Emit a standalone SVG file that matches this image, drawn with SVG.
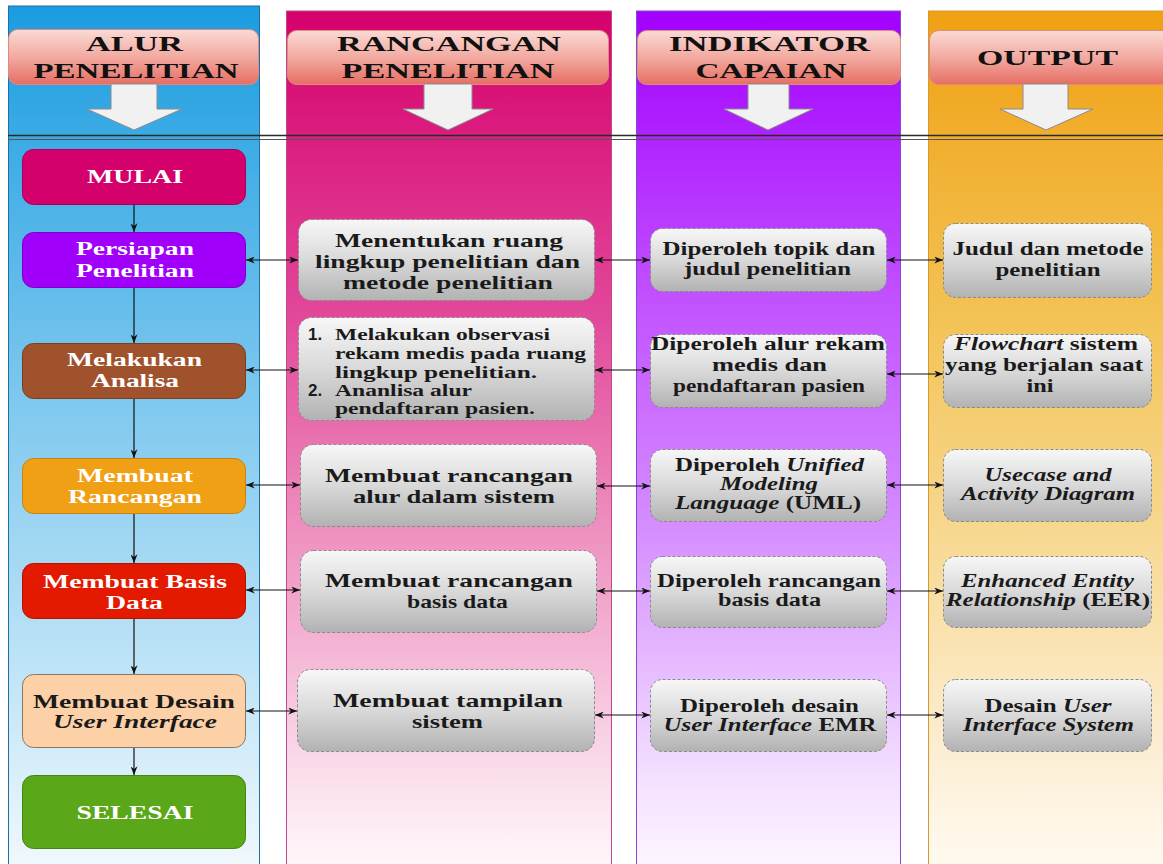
<svg xmlns="http://www.w3.org/2000/svg" width="1163" height="864" viewBox="0 0 1163 864">
<defs>
<linearGradient id="gBlue" x1="0" y1="0" x2="0" y2="1"><stop offset="0" stop-color="#1a9ce0"/><stop offset="0.45" stop-color="#7dc8ee"/><stop offset="1" stop-color="#f2f9fd"/></linearGradient>
<linearGradient id="gPink" x1="0" y1="0" x2="0" y2="1"><stop offset="0" stop-color="#d6006c"/><stop offset="0.35" stop-color="#e2479a"/><stop offset="0.6" stop-color="#ee90bf"/><stop offset="0.9" stop-color="#fbe2ee"/><stop offset="1" stop-color="#fff9fb"/></linearGradient>
<linearGradient id="gPurple" x1="0" y1="0" x2="0" y2="1"><stop offset="0" stop-color="#a200ff"/><stop offset="0.35" stop-color="#c355ff"/><stop offset="0.6" stop-color="#d58eff"/><stop offset="0.88" stop-color="#f3deff"/><stop offset="1" stop-color="#fdf8ff"/></linearGradient>
<linearGradient id="gOrange" x1="0" y1="0" x2="0" y2="1"><stop offset="0" stop-color="#f0a012"/><stop offset="0.35" stop-color="#f3c254"/><stop offset="0.6" stop-color="#f7d890"/><stop offset="0.88" stop-color="#fdf0da"/><stop offset="1" stop-color="#fffbf2"/></linearGradient>
<linearGradient id="gHead" x1="0" y1="0" x2="0" y2="1"><stop offset="0" stop-color="#fadad4"/><stop offset="0.5" stop-color="#f2aaa1"/><stop offset="1" stop-color="#e66e63"/></linearGradient>
<linearGradient id="gGray" x1="0" y1="0" x2="0" y2="1"><stop offset="0" stop-color="#f7f7f7"/><stop offset="0.5" stop-color="#d9d9d9"/><stop offset="1" stop-color="#b2b2b2"/></linearGradient>
<marker id="ah" viewBox="0 0 10 8" refX="10" refY="4" markerWidth="9" markerHeight="7" markerUnits="userSpaceOnUse" orient="auto-start-reverse"><path d="M0,0 L10,4 L0,8 L3,4 z" fill="#111"/></marker>
</defs>
<style>
.hd{font-family:"Liberation Serif","Times New Roman",serif;font-weight:bold;font-size:22px;fill:#111;text-anchor:middle}
.w{font-family:"Liberation Serif","Times New Roman",serif;font-weight:bold;font-size:18px;fill:#fff;text-anchor:middle}
.d{font-family:"Liberation Serif","Times New Roman",serif;font-weight:bold;font-size:18.5px;fill:#1a1a1a;text-anchor:middle}
.d2{font-family:"Liberation Serif","Times New Roman",serif;font-weight:bold;font-size:19px;fill:#1a1a1a;text-anchor:middle}
.l{font-family:"Liberation Serif","Times New Roman",serif;font-weight:bold;font-size:17.5px;fill:#1a1a1a}
.n{font-family:"Liberation Sans",Arial,sans-serif;font-weight:bold;font-size:17px;fill:#1a1a1a}
.i{font-style:italic}
.gn{fill:url(#gGray);stroke:#8a8a8a;stroke-width:1;stroke-dasharray:3 2}
.hb{fill:url(#gHead);stroke:#df8a7e;stroke-width:1}
.da{fill:#f1f1f1;stroke:#8c8c8c;stroke-width:1}
.c line{stroke:#111;stroke-width:1.2;marker-end:url(#ah)}
.c .b{marker-start:url(#ah)}
</style>
<!-- lanes -->
<g id="lanes">
<rect x="8.5" y="6" width="251" height="870" fill="url(#gBlue)" stroke="#1f6ea6" stroke-width="1"/>
<rect x="286.5" y="11" width="325" height="865" fill="url(#gPink)" stroke="#c04a86" stroke-width="1"/>
<rect x="636.5" y="11" width="264" height="865" fill="url(#gPurple)" stroke="#8a48cc" stroke-width="1"/>
<rect x="928.5" y="11" width="245" height="865" fill="url(#gOrange)" stroke="#d49a2c" stroke-width="1"/>
</g>
<!-- headers -->
<g id="h1"><rect class="hb" x="8.5" y="29.5" width="250" height="55" rx="9"/><text class="hd" x="134.5" y="51" textLength="97" lengthAdjust="spacingAndGlyphs">ALUR</text><text class="hd" x="136" y="78" textLength="205" lengthAdjust="spacingAndGlyphs">PENELITIAN</text></g>
<g id="h2"><rect class="hb" x="287.5" y="30.5" width="321" height="54" rx="9"/><text class="hd" x="449" y="51" textLength="224" lengthAdjust="spacingAndGlyphs">RANCANGAN</text><text class="hd" x="448" y="78" textLength="213" lengthAdjust="spacingAndGlyphs">PENELITIAN</text></g>
<g id="h3"><rect class="hb" x="637.5" y="30.5" width="263" height="54" rx="9"/><text class="hd" x="769.5" y="51" textLength="201" lengthAdjust="spacingAndGlyphs">INDIKATOR</text><text class="hd" x="771" y="78" textLength="151" lengthAdjust="spacingAndGlyphs">CAPAIAN</text></g>
<g id="h4"><rect class="hb" x="929.5" y="30.5" width="245" height="54" rx="9"/><text class="hd" x="1047.5" y="65" textLength="141" lengthAdjust="spacingAndGlyphs">OUTPUT</text></g>
<!-- down block arrows -->
<g id="downArrows">
<path class="da" d="M111,84 H157 V109 H182 L134,130 L87,109 H111 Z"/>
<path class="da" d="M424,84 H472 V109 H493 L448,130 L403,109 H424 Z"/>
<path class="da" d="M748,84 H789 V109 H813 L768,130 L724,109 H748 Z"/>
<path class="da" d="M1023,84 H1068 V109 H1093 L1046,130 L1000,109 H1023 Z"/>
</g>
<g id="divider">
<line x1="8" y1="135.5" x2="1163" y2="135.5" stroke="#2a2a2a" stroke-width="1.3"/>
<line x1="8" y1="139.5" x2="1163" y2="139.5" stroke="#555" stroke-width="1"/>
</g>
<!-- column 1 nodes -->
<g id="mulai"><rect x="22.5" y="149.5" width="223" height="55" rx="11" fill="#d4006c" stroke="#a8005a"/><text class="w" x="135" y="183" textLength="96" lengthAdjust="spacingAndGlyphs">MULAI</text></g>
<g id="persiapan"><rect x="22.5" y="232.5" width="223" height="55" rx="11" fill="#a000fa" stroke="#7d00c6"/><text class="w" x="135" y="255" textLength="118" lengthAdjust="spacingAndGlyphs">Persiapan</text><text class="w" x="135" y="277" textLength="118" lengthAdjust="spacingAndGlyphs">Penelitian</text></g>
<g id="analisa"><rect x="22.5" y="343.5" width="223" height="55" rx="11" fill="#a0522d" stroke="#7c3d20"/><text class="w" x="134.5" y="366" textLength="135" lengthAdjust="spacingAndGlyphs">Melakukan</text><text class="w" x="135" y="387" textLength="88" lengthAdjust="spacingAndGlyphs">Analisa</text></g>
<g id="rancangan"><rect x="22.5" y="458.5" width="223" height="55" rx="11" fill="#f0a014" stroke="#c98210"/><text class="w" x="135" y="482" textLength="116" lengthAdjust="spacingAndGlyphs">Membuat</text><text class="w" x="135" y="503" textLength="134" lengthAdjust="spacingAndGlyphs">Rancangan</text></g>
<g id="basisdata"><rect x="22.5" y="563.5" width="223" height="55" rx="11" fill="#e31a00" stroke="#b01400"/><text class="w" x="135" y="588" textLength="184" lengthAdjust="spacingAndGlyphs">Membuat Basis</text><text class="w" x="134.5" y="609" textLength="57" lengthAdjust="spacingAndGlyphs">Data</text></g>
<g id="desain"><rect x="22.5" y="674.5" width="223" height="73" rx="11" fill="#fdd1a8" stroke="#8f7460"/><text class="w" style="fill:#1a1a1a" x="134" y="708" textLength="202" lengthAdjust="spacingAndGlyphs">Membuat Desain</text><text class="w i" style="fill:#1a1a1a" x="135" y="728" textLength="164" lengthAdjust="spacingAndGlyphs">User Interface</text></g>
<g id="selesai"><rect x="22.5" y="775.5" width="223" height="73" rx="11" fill="#5ba71a" stroke="#468513"/><text class="w" x="135" y="819" textLength="117" lengthAdjust="spacingAndGlyphs">SELESAI</text></g>
<!-- column 2 nodes -->
<g id="r1"><rect class="gn" x="298.5" y="219.5" width="296" height="81" rx="13"/><text class="d2" x="449" y="247" textLength="228" lengthAdjust="spacingAndGlyphs">Menentukan ruang</text><text class="d2" x="447.5" y="268" textLength="265" lengthAdjust="spacingAndGlyphs">lingkup penelitian dan</text><text class="d2" x="448" y="289" textLength="210" lengthAdjust="spacingAndGlyphs">metode penelitian</text></g>
<g id="r2"><rect class="gn" x="298.5" y="317.5" width="296" height="103" rx="13"/>
<text class="n" x="308" y="340">1.</text><text class="l" x="335" y="340" textLength="215" lengthAdjust="spacingAndGlyphs">Melakukan observasi</text>
<text class="l" x="335" y="359" textLength="251" lengthAdjust="spacingAndGlyphs">rekam medis pada ruang</text>
<text class="l" x="335" y="378" textLength="202" lengthAdjust="spacingAndGlyphs">lingkup penelitian.</text>
<text class="n" x="308" y="396">2.</text><text class="l" x="335" y="396" textLength="137" lengthAdjust="spacingAndGlyphs">Ananlisa alur</text>
<text class="l" x="335" y="414" textLength="200" lengthAdjust="spacingAndGlyphs">pendaftaran pasien.</text></g>
<g id="r3"><rect class="gn" x="300.5" y="444.5" width="296" height="82" rx="13"/><text class="d2" x="449" y="482" textLength="248" lengthAdjust="spacingAndGlyphs">Membuat rancangan</text><text class="d2" x="454" y="503" textLength="202" lengthAdjust="spacingAndGlyphs">alur dalam sistem</text></g>
<g id="r4"><rect class="gn" x="300.5" y="550.5" width="296" height="82" rx="13"/><text class="d2" x="449" y="587" textLength="248" lengthAdjust="spacingAndGlyphs">Membuat rancangan</text><text class="d2" x="457.5" y="608" textLength="101" lengthAdjust="spacingAndGlyphs">basis data</text></g>
<g id="r5"><rect class="gn" x="297.5" y="669.5" width="297" height="82" rx="13"/><text class="d2" x="448" y="707" textLength="230" lengthAdjust="spacingAndGlyphs">Membuat tampilan</text><text class="d2" x="447.5" y="728" textLength="71" lengthAdjust="spacingAndGlyphs">sistem</text></g>
<!-- column 3 nodes -->
<g id="i1"><rect class="gn" x="650.5" y="228.5" width="236" height="63" rx="12"/><text class="d" x="769" y="255" textLength="213" lengthAdjust="spacingAndGlyphs">Diperoleh topik dan</text><text class="d" x="767.5" y="275" textLength="167" lengthAdjust="spacingAndGlyphs">judul penelitian</text></g>
<g id="i2"><rect class="gn" x="650.5" y="334.5" width="236" height="73" rx="12"/><text class="d" x="768" y="350" textLength="234" lengthAdjust="spacingAndGlyphs">Diperoleh alur rekam</text><text class="d" x="769.5" y="371" textLength="115" lengthAdjust="spacingAndGlyphs">medis dan</text><text class="d" x="769" y="392" textLength="192" lengthAdjust="spacingAndGlyphs">pendaftaran pasien</text></g>
<g id="i3"><rect class="gn" x="650.5" y="449.5" width="236" height="72" rx="12"/><text class="d" x="769.5" y="471" textLength="189" lengthAdjust="spacingAndGlyphs">Diperoleh <tspan class="i">Unified</tspan></text><text class="d i" x="769" y="490" textLength="98" lengthAdjust="spacingAndGlyphs">Modeling</text><text class="d" x="768" y="509" textLength="186" lengthAdjust="spacingAndGlyphs"><tspan class="i">Language</tspan> (UML)</text></g>
<g id="i4"><rect class="gn" x="650.5" y="556.5" width="236" height="71" rx="12"/><text class="d" x="769" y="587" textLength="224" lengthAdjust="spacingAndGlyphs">Diperoleh rancangan</text><text class="d" x="769.5" y="606" textLength="103" lengthAdjust="spacingAndGlyphs">basis data</text></g>
<g id="i5"><rect class="gn" x="650.5" y="679.5" width="236" height="72" rx="12"/><text class="d" x="769.5" y="712" textLength="179" lengthAdjust="spacingAndGlyphs">Diperoleh desain</text><text class="d" x="770" y="731" textLength="213" lengthAdjust="spacingAndGlyphs"><tspan class="i">User Interface</tspan> EMR</text></g>
<!-- column 4 nodes -->
<g id="o1"><rect class="gn" x="943.5" y="223.5" width="208" height="74" rx="12"/><text class="d" x="1048" y="255" textLength="191" lengthAdjust="spacingAndGlyphs">Judul dan metode</text><text class="d" x="1048" y="276" textLength="105" lengthAdjust="spacingAndGlyphs">penelitian</text></g>
<g id="o2"><rect class="gn" x="943.5" y="334.5" width="208" height="73" rx="12"/><text class="d" x="1046" y="350" textLength="184" lengthAdjust="spacingAndGlyphs"><tspan class="i">Flowchart</tspan> sistem</text><text class="d" x="1044" y="371" textLength="198" lengthAdjust="spacingAndGlyphs">yang berjalan saat</text><text class="d" x="1040" y="392" textLength="27" lengthAdjust="spacingAndGlyphs">ini</text></g>
<g id="o3"><rect class="gn" x="943.5" y="449.5" width="208" height="72" rx="12"/><text class="d i" x="1048" y="481" textLength="127" lengthAdjust="spacingAndGlyphs">Usecase and</text><text class="d i" x="1048" y="500" textLength="174" lengthAdjust="spacingAndGlyphs">Activity Diagram</text></g>
<g id="o4"><rect class="gn" x="943.5" y="556.5" width="208" height="71" rx="12"/><text class="d i" x="1047.5" y="587" textLength="173" lengthAdjust="spacingAndGlyphs">Enhanced Entity</text><text class="d" x="1048" y="606" textLength="204" lengthAdjust="spacingAndGlyphs"><tspan class="i">Relationship</tspan> (EER)</text></g>
<g id="o5"><rect class="gn" x="943.5" y="679.5" width="208" height="72" rx="12"/><text class="d" x="1048" y="712" textLength="127" lengthAdjust="spacingAndGlyphs">Desain <tspan class="i">User</tspan></text><text class="d i" x="1048.5" y="731" textLength="171" lengthAdjust="spacingAndGlyphs">Interface System</text></g>
<!-- connectors -->
<g id="connectors" class="c">
<line x1="134" y1="205" x2="134" y2="232"/>
<line x1="134" y1="288" x2="134" y2="343"/>
<line x1="134" y1="399" x2="134" y2="458"/>
<line x1="134" y1="514" x2="134" y2="563"/>
<line x1="134" y1="619" x2="134" y2="674"/>
<line x1="134" y1="748" x2="134" y2="775"/>
<line class="b" x1="246" y1="260" x2="298" y2="260"/>
<line class="b" x1="595" y1="260" x2="650" y2="260"/>
<line class="b" x1="887" y1="260" x2="943" y2="260"/>
<line class="b" x1="246" y1="370" x2="298" y2="370"/>
<line class="b" x1="595" y1="370" x2="650" y2="370"/>
<line class="b" x1="887" y1="374" x2="943" y2="374"/>
<line class="b" x1="246" y1="485" x2="300" y2="485"/>
<line class="b" x1="597" y1="486" x2="650" y2="486"/>
<line class="b" x1="887" y1="485" x2="943" y2="485"/>
<line class="b" x1="246" y1="590" x2="300" y2="590"/>
<line class="b" x1="597" y1="591" x2="650" y2="591"/>
<line class="b" x1="887" y1="591" x2="943" y2="591"/>
<line class="b" x1="246" y1="711" x2="297" y2="711"/>
<line class="b" x1="595" y1="715" x2="650" y2="715"/>
<line class="b" x1="887" y1="715" x2="943" y2="715"/>
</g>
</svg>
